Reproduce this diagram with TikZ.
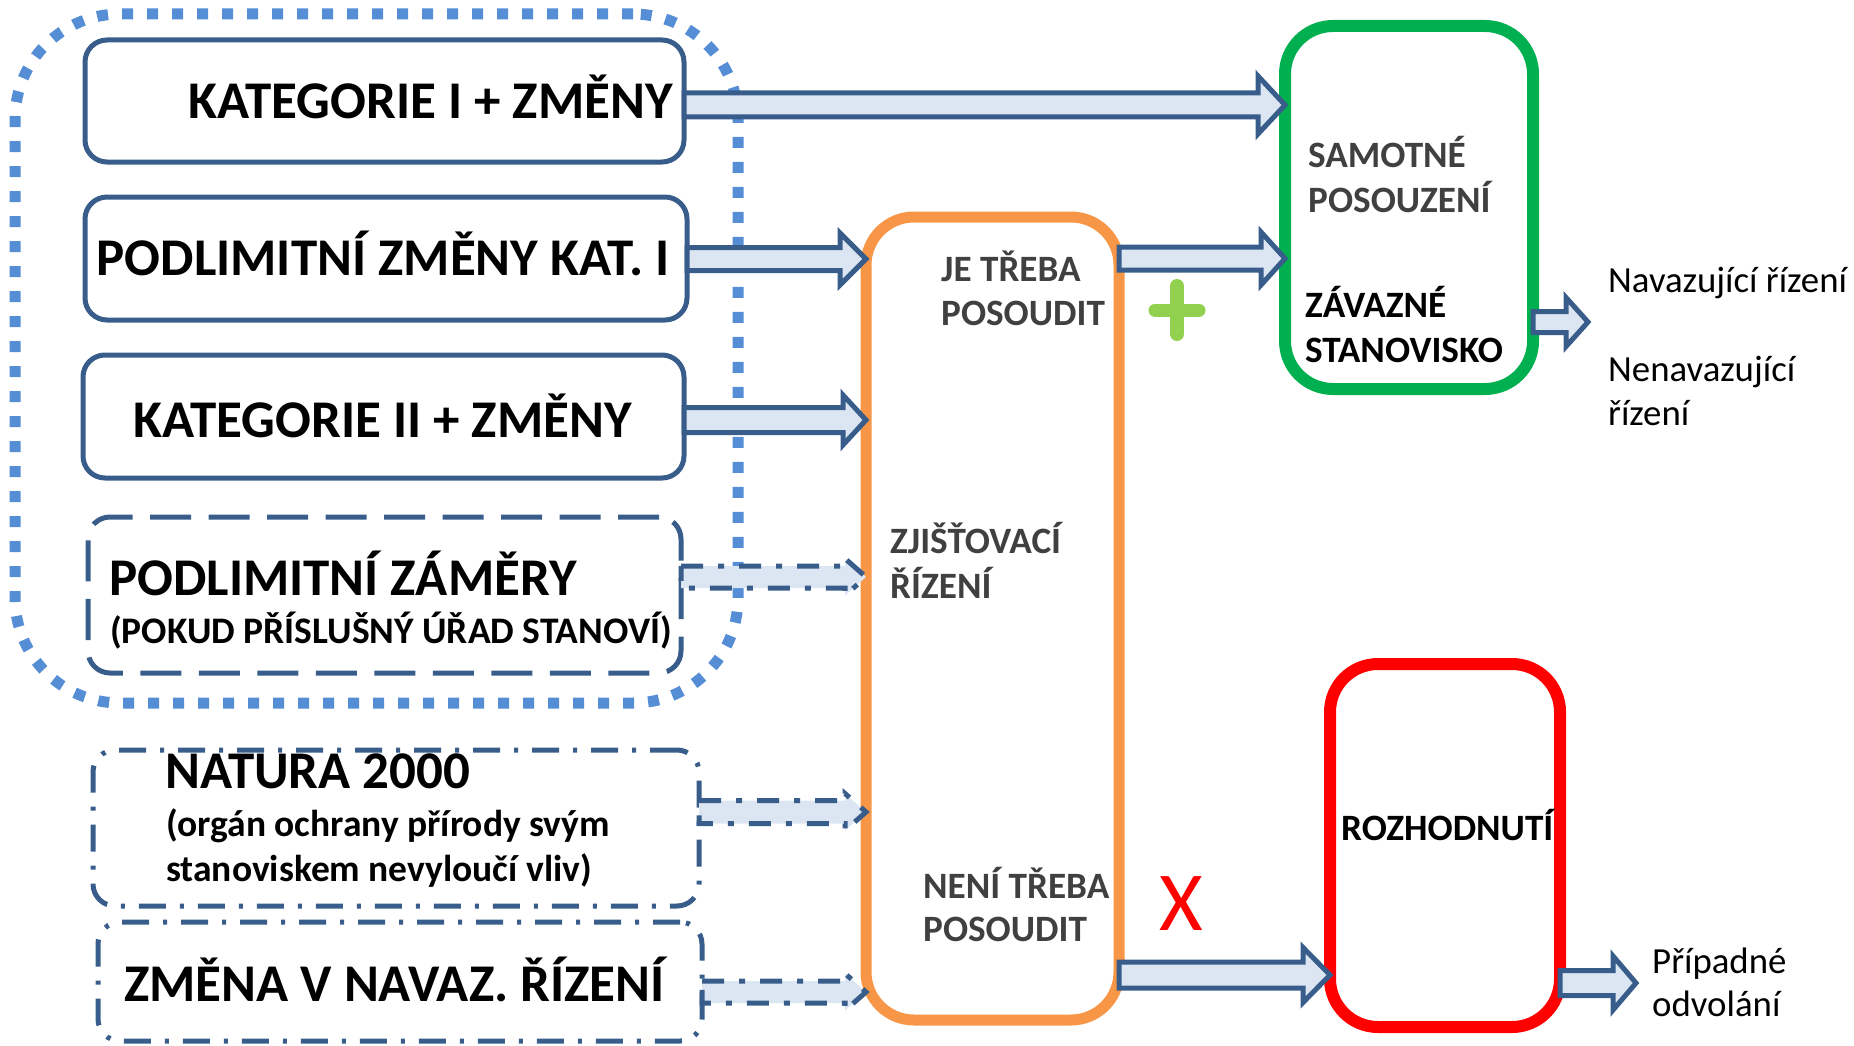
\documentclass[tikz,border=0pt]{standalone}
\usepackage{fontspec}
\setmainfont{Carlito}
\usetikzlibrary{calc}
\definecolor{bord}{HTML}{385D8A}
\definecolor{afill}{HTML}{DCE6F2}
\definecolor{dotblue}{HTML}{558ED5}
\definecolor{orng}{HTML}{F79646}
\definecolor{grn}{HTML}{00B050}
\definecolor{lgrn}{HTML}{92D050}
\definecolor{txtgray}{HTML}{404040}
\newcommand\blockarrow[6][]{%
  \draw[barrow,#1] let \p1=#2, \p2=#3 in
    (\x1,\y1+#4pt) -- (\x2-#6pt,\y1+#4pt) -- (\x2-#6pt,\y1+#5pt) -- (\x2,\y1)
    -- (\x2-#6pt,\y1-#5pt) -- (\x2-#6pt,\y1-#4pt) -- (\x1,\y1-#4pt) -- cycle;}
\tikzset{
  box/.style={draw=bord, line width=5pt, rounded corners=22pt, inner sep=0pt, outer sep=0pt},
  dashbox/.style={box, dash pattern=on 41pt off 17.5pt},
  dotdashbox/.style={box, dash pattern=on 27pt off 14pt on 4pt off 14pt},
  bigbox/.style={line width=11pt, rounded corners=48pt, inner sep=0pt, outer sep=0pt},
  barrow/.style={draw=bord, fill=afill, line width=5pt, line join=miter},
  dasharrow/.style={dash pattern=on 22pt off 15pt on 6pt off 15pt},
  bigtxt/.style={font=\bfseries\fontsize{53}{62}\selectfont, inner sep=0pt, anchor=base west},
  midtxt/.style={font=\bfseries\fontsize{37.5}{44}\selectfont, inner sep=0pt, anchor=base west},
  graytxt/.style={font=\bfseries\fontsize{37.2}{44}\selectfont, text=txtgray, inner sep=0pt, anchor=base west},
  blacktxt/.style={font=\bfseries\fontsize{37.2}{44}\selectfont, inner sep=0pt, anchor=base west},
  plaintxt/.style={font=\fontsize{36.8}{44}\selectfont, inner sep=0pt, anchor=base west}
}
\begin{document}
\begin{tikzpicture}[x=1pt,y=-1pt]
\useasboundingbox (0,0) rectangle (1854,1046);
% outer dotted group
\node[draw=dotblue, line width=11pt, rounded corners=105pt, dash pattern=on 11pt off 14pt,
  minimum width=723pt, minimum height=689pt, inner sep=0pt] (group) at (376.5,358.5) {};
% left boxes
\node[box, minimum width=599pt, minimum height=122pt] (k1) at (384.5,101) {};
\node[box, minimum width=602pt, minimum height=123pt] (k2) at (386,258.5) {};
\node[box, minimum width=601pt, minimum height=123pt] (k3) at (383.5,416.5) {};
\node[dashbox, minimum width=593pt, minimum height=156pt] (pz) at (384.5,595) {};
\node[dotdashbox, minimum width=606pt, minimum height=156pt] (nat) at (396,828) {};
\node[dotdashbox, minimum width=604pt, minimum height=119pt] (zm) at (400,981.5) {};
% right boxes
\node[bigbox, draw=orng, minimum width=253pt, minimum height=803pt] (orange) at (992.5,618.5) {};
\node[bigbox, draw=grn, line width=12pt, minimum width=248pt, minimum height=363pt] (green) at (1409,207.5) {};
\node[bigbox, draw=red, line width=12pt, minimum width=230pt, minimum height=363pt] (red) at (1445,845.5) {};
% texts in left boxes
\node[bigtxt, anchor=base east] (t1) at (673,118) {KATEGORIE I + ZMĚNY};
\node[bigtxt, anchor=base] (t2) at (383,275) {PODLIMITNÍ ZMĚNY KAT. I};
\node[bigtxt, anchor=base] (t3) at (382.5,437) {KATEGORIE II + ZMĚNY};
\node[bigtxt] (t4) at (109,595) {PODLIMITNÍ ZÁMĚRY};
\node[midtxt] (t5) at (110,643) {(POKUD PŘÍSLUŠNÝ ÚŘAD STANOVÍ)};
\node[bigtxt] (t6) at (165,788) {NATURA 2000};
\node[midtxt] (t7) at (166,836) {(orgán ochrany přírody svým};
\node[midtxt] (t8) at (166,881) {stanoviskem nevyloučí vliv)};
\node[bigtxt] (t9) at (124,1001) {ZMĚNA V NAVAZ. ŘÍZENÍ};
% texts in orange box
\node[graytxt] (je1) at (941,281) {JE TŘEBA};
\node[graytxt] (je2) at (941,325) {POSOUDIT};
\node[graytxt] (zj1) at (890,553) {ZJIŠŤOVACÍ};
\node[graytxt] (zj2) at (890,598) {ŘÍZENÍ};
\node[graytxt] (ne1) at (923,898) {NENÍ TŘEBA};
\node[graytxt] (ne2) at (923,941) {POSOUDIT};
% texts in green box
\node[graytxt] (sa1) at (1308,167) {SAMOTNÉ};
\node[graytxt] (sa2) at (1308,212) {POSOUZENÍ};
\node[blacktxt] (zs1) at (1305,317) {ZÁVAZNÉ};
\node[blacktxt] (zs2) at (1305,362) {STANOVISKO};
% text in red box
\node[blacktxt] (roz) at (1341,840) {ROZHODNUTÍ};
% outside texts
\node[plaintxt] (nav) at (1608,292) {Navazující řízení};
\node[plaintxt] (nen1) at (1608,381) {Nenavazující};
\node[plaintxt] (nen2) at (1608,425) {řízení};
\node[plaintxt] (pr1) at (1652,973) {Případné};
\node[plaintxt] (pr2) at (1652,1016) {odvolání};
\node[font=\fontsize{84}{90}\selectfont, text=red, inner sep=0pt, anchor=base west] (xmark) at (1159,930) {X};
% green plus
\draw[lgrn, line width=14pt, line cap=round] (1177,286) -- (1177,334);
\draw[lgrn, line width=13pt, line cap=round] (1155,310) -- (1199,310);
% arrow tips in free space
\coordinate (gtip) at (1588,322);
\coordinate (rtip) at (1636,983);
% block arrows
\blockarrow{($(k1.east)+(0,4)$)}{(green.west)}{12}{29}{27}
\blockarrow{($(k2.east)+(0,0.5)$)}{(orange.west)}{11.5}{26}{26}
\blockarrow{($(k3.east)+(0,3.5)$)}{(orange.west)}{12.5}{25}{23}
\blockarrow[dasharrow]{($(pz.east)+(0,-18)$)}{(orange.west)}{11}{18.5}{21}
\blockarrow[dasharrow]{($(nat.east)+(0,-16)$)}{(orange.west)}{11.5}{18.5}{21}
\blockarrow[dasharrow]{($(zm.east)+(0,10.5)$)}{(orange.west)}{11}{18.5}{21}
\blockarrow{(orange.east |- k2.east)}{(green.west)}{11.5}{26.5}{24}
\blockarrow{($(orange.south east)+(0,-45)$)}{(red.west)}{13}{27.5}{27}
\blockarrow{(green.east |- gtip)}{(gtip)}{10.5}{24.5}{22}
\blockarrow{(red.east |- rtip)}{(rtip)}{12.5}{27}{23}
\end{tikzpicture}
\end{document}
